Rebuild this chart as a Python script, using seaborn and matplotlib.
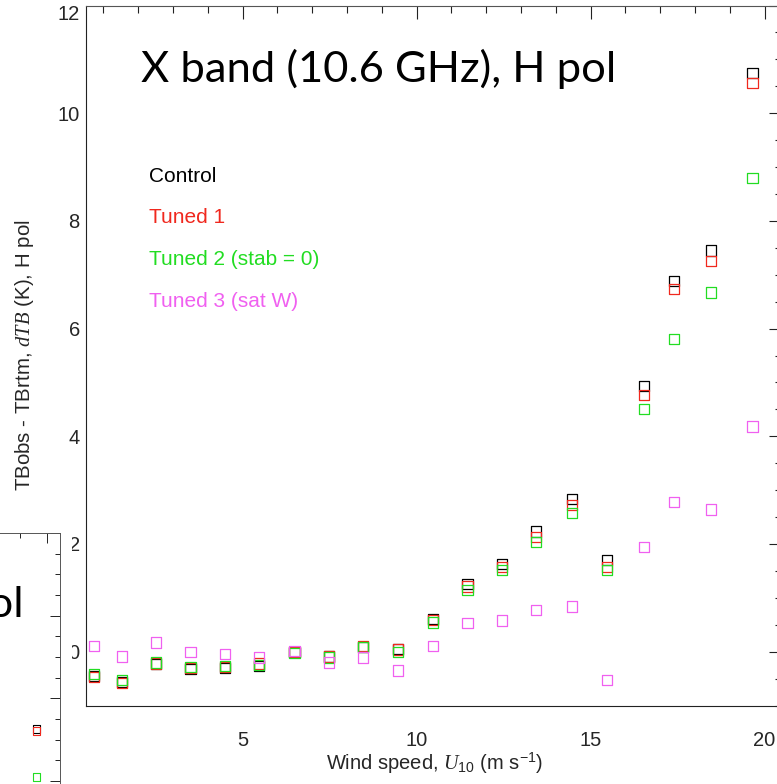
import matplotlib
matplotlib.use("Agg")
import numpy as np
import pandas as pd
import matplotlib.pyplot as plt
from matplotlib.patches import Rectangle
from matplotlib.ticker import MultipleLocator
import seaborn as sns

# Bin-mean 10 m wind speed (m/s)
wind = [0.72, 1.54, 2.52, 3.50, 4.50, 5.48, 6.49, 7.48, 8.47, 9.47,
        10.48, 11.46, 12.46, 13.44, 14.47, 15.48, 16.54, 17.40, 18.47, 19.65]

# Mean TBobs - TBrtm (K), X band H pol, per wind-speed bin
control = [-0.45, -0.56, -0.23, -0.32, -0.30, -0.26, 0.00, -0.09, 0.09, 0.05,
           0.61, 1.25, 1.63, 2.23, 2.83, 1.70, 4.93, 6.89, 7.45, 10.75]
tuned1 = [-0.47, -0.58, -0.22, -0.31, -0.29, -0.22, 0.00, -0.09, 0.10, 0.04,
          0.59, 1.21, 1.57, 2.13, 2.73, 1.57, 4.77, 6.73, 7.25, 10.56]
tuned2 = [-0.41, -0.53, -0.20, -0.29, -0.26, -0.25, -0.02, -0.11, 0.08, -0.01,
          0.54, 1.15, 1.51, 2.04, 2.58, 1.51, 4.51, 5.80, 6.67, 8.80]
tuned3 = [0.10, -0.09, 0.17, -0.01, -0.04, -0.11, 0.01, -0.20, -0.11, -0.35,
          0.10, 0.53, 0.58, 0.78, 0.84, -0.53, 1.95, 2.78, 2.64, 4.18]

runs = ["Control", "Tuned 1", "Tuned 2 (stab = 0)", "Tuned 3 (sat W)"]
run_colors = ["#000000", "#f0281e", "#22dd22", "#f060f0"]

# Neighbouring panel (V pol): top wind bin
v_wind = [19.63]
v_control = [7.25]
v_tuned1 = [7.21]
v_tuned2 = [6.10]

title = "X band (10.6 GHz), H pol"

sns.set_theme(style="white")
plt.rcParams["font.family"] = ["Liberation Sans", "DejaVu Sans"]
plt.rcParams["mathtext.fontset"] = "custom"
plt.rcParams["mathtext.rm"] = "Liberation Sans"
plt.rcParams["mathtext.it"] = "Liberation Serif:italic"
plt.rcParams["mathtext.bf"] = "Liberation Sans:bold"

W, H = 777, 784
fig = plt.figure(figsize=(W / 100, H / 100), dpi=100)
fig.patch.set_facecolor("white")


def px_box(left, top, right, bottom):
    return [left / W, 1 - bottom / H, (right - left) / W, (bottom - top) / H]


def style_axes(a, major_len, minor_len, lw):
    a.set_xlim(0.5, 20.5)
    a.set_ylim(-1, 12)
    a.xaxis.set_major_locator(MultipleLocator(5))
    a.xaxis.set_minor_locator(MultipleLocator(1))
    a.set_yticks(np.arange(0, 13, 2))
    a.yaxis.set_minor_locator(MultipleLocator(0.5))
    a.tick_params(which="both", direction="in", top=True, right=True,
                  color="#222222", width=lw)
    a.tick_params(which="major", length=major_len)
    a.tick_params(which="minor", length=minor_len)
    for side, sp in a.spines.items():
        sp.set_linewidth(lw)
        sp.set_color("#555555" if side in ("top", "right") else "#222222")
    a.grid(False)


# ---- main panel ----
ax = fig.add_axes(px_box(86, 5.5, 782, 705.5))
df = pd.DataFrame({
    "wind": wind * 4,
    "dtb": control + tuned1 + tuned2 + tuned3,
    "run": np.repeat(runs, len(wind)),
})
for name, col in zip(runs, run_colors):
    sns.scatterplot(data=df[df["run"] == name], x="wind", y="dtb",
                    marker="s", s=54, facecolor="none", edgecolor=col,
                    linewidth=0.9, legend=False, ax=ax, zorder=3)

style_axes(ax, 9.4, 5.0, 0.8)
ax.tick_params(axis="x", labelsize=14.5, pad=18.5)
ax.tick_params(axis="y", labelsize=14.5, pad=4.5)
ax.yaxis.get_major_ticks()[-1].label1.set_verticalalignment("top")

ax.set_xlabel(r"Wind speed, $U_{\mathrm{10}}$ (m s$^{\mathrm{-1}}$)", fontsize=14.5)
ax.set_ylabel(r"TBobs - TBrtm, $dTB$ (K), H pol", fontsize=14.8)
ax.xaxis.set_label_coords(0.5, -0.064)
ax.yaxis.set_label_coords(-0.0716, 0.5)

legend_y = [0.7483, 0.6889, 0.6293, 0.5697]
for name, col, yy in zip(runs, run_colors, legend_y):
    ax.text(0.0905, yy, name, color=col, fontsize=15, ha="left",
            va="baseline", transform=ax.transAxes)

fig.text(141 / W, 1 - 82 / H, title, fontsize=31.3, family=["Lato", "DejaVu Sans"],
         ha="left", va="baseline", color="black")

# ---- neighbouring panel, overlapping at lower left ----
fig.add_artist(Rectangle((0, 0), 72 / W, (H - 520) / H, transform=fig.transFigure,
                         facecolor="white", edgecolor="none", zorder=2))
ax_in = fig.add_axes(px_box(-479, 533, 60, 1070))
ax_in.set_zorder(3)
ax_in.patch.set_alpha(0)
for vals, col in zip([v_control, v_tuned1, v_tuned2], run_colors[:3]):
    sns.scatterplot(x=v_wind, y=vals, marker="s", s=32, facecolor="none",
                    edgecolor=col, linewidth=0.8, legend=False, ax=ax_in,
                    zorder=3)
style_axes(ax_in, 7.3, 3.9, 0.7)
ax_in.tick_params(labelleft=False, labelbottom=False)
ax_in.set_xlabel("")
ax_in.set_ylabel("")
fig.text(25 / W, 1 - 617 / H, "pol", fontsize=31.3, family=["Lato", "DejaVu Sans"],
         ha="right", va="baseline", color="black", zorder=4)

fig.savefig("out.png", dpi=100)
